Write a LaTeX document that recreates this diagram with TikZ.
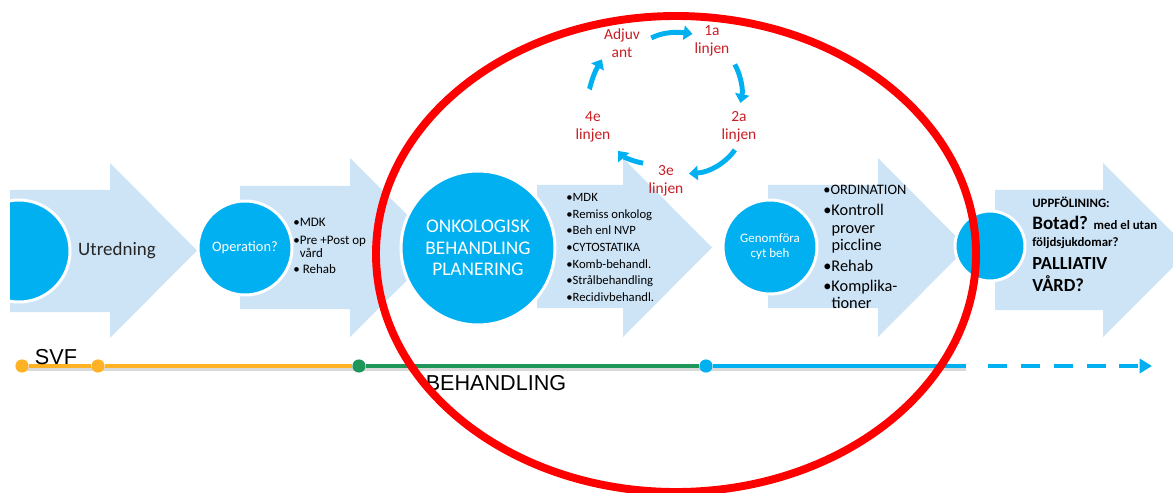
\documentclass[tikz,border=0pt]{standalone}
\usepackage{fontspec}
\setmainfont{Carlito}
\newfontfamily\arialfont{Liberation Sans}
\usetikzlibrary{positioning}
\usetikzlibrary{calc}
\usetikzlibrary{arrows.meta}

\definecolor{lightarrow}{RGB}{205,228,247}
\definecolor{phaseblue}{RGB}{0,176,240}
\definecolor{svforange}{RGB}{255,178,36}
\definecolor{behgreen}{RGB}{30,150,90}
\definecolor{linjered}{RGB}{200,30,35}

\tikzset{
	phase/.style={circle,fill=phaseblue,draw=white,line width=1.7pt,text=white,align=center,inner sep=0pt},
	bulletlist/.style={anchor=north west,align=left,inner sep=0pt},
	textline/.style={anchor=base west,inner sep=0pt,font=\bfseries},
	linje/.style={text=linjered,align=center,inner sep=1pt,font=\fontsize{8.8}{10}\selectfont},
	linjearrow/.style={draw=phaseblue,line width=2.8pt,-{Triangle[length=5pt,width=8pt]}},
	milestone/.style={circle,inner sep=0pt,minimum size=7.5pt},
	timeline/.style={line width=2.6pt},
}

\begin{document}
\begin{tikzpicture}[x=0.02cm,y=-0.02cm]
	\useasboundingbox (0,0) rectangle (1173,493);
	\clip (0,0) rectangle (1173,493);
	\fill[lightarrow] (10,190) -- (110,190) -- (110,163) -- (197,250.5) -- (110,338) -- (110,312) -- (10,312) -- cycle;
	\fill[lightarrow] (240,186) -- (350,186) -- (350,158) -- (440,247.5) -- (350,337) -- (350,309) -- (240,309) -- cycle;
	\fill[lightarrow] (537,185) -- (623,185) -- (623,158) -- (712,247.5) -- (623,337) -- (623,308) -- (537,308) -- cycle;
	\fill[lightarrow] (768,185) -- (878,185) -- (878,158) -- (967,247.5) -- (878,337) -- (878,308) -- (768,308) -- cycle;
	\fill[lightarrow] (995,190) -- (1103,190) -- (1103,163) -- (1190,250) -- (1103,337) -- (1103,310) -- (995,310) -- cycle;

	\begin{scope}
		\clip (10,0) rectangle (200,493);
		\node[phase,minimum size=2.04cm] (start) at (19,251) {};
	\end{scope}
	\node[font=\fontsize{10.8}{12}\selectfont,text=black!85] (utredning) at (117,251) {Utredning};
	\node[phase,minimum size=1.88cm,font=\fontsize{8.2}{10}\selectfont] (operation) at (245,248) {Operation?};
	\node[phase,minimum size=3.08cm,font=\fontsize{11}{12.2}\selectfont] (onko) at (478,248) {ONKOLOGISK\\BEHANDLING\\PLANERING};
	\node[phase,minimum size=1.88cm,font=\fontsize{7.4}{8.6}\selectfont] (genomfora) at (770,247) {Genomföra\\cyt beh};
	\node[phase,minimum size=1.4cm] (uppfoljning) at (990,246) {};

	\node[bulletlist,font=\fontsize{7.4}{7.4}\selectfont] (oplist) at (293,218) {\textbullet MDK\\[2.8pt] \textbullet Pre +Post op\\ \phantom{\textbullet}vård\\[1.7pt] \textbullet\ Rehab};
	\node[bulletlist,font=\fontsize{7.2}{9.5}\selectfont] (onkolist) at (566,193) {\textbullet MDK\\ \textbullet Remiss onkolog\\ \textbullet Beh enl NVP\\ \textbullet CYTOSTATIKA\\ \textbullet Komb-behandl.\\ \textbullet Strålbehandling\\ \textbullet Recidivbehandl.};
	\node[bulletlist,font=\fontsize{9.3}{9.9}\selectfont] (cytlist) at (823,185) {{\fontsize{8.2}{9.9}\selectfont\textbullet ORDINATION}\\[2pt] \textbullet Kontroll\\ \phantom{\textbullet}prover\\ \phantom{\textbullet}piccline\\[2pt] \textbullet Rehab\\[1.5pt] \textbullet Komplika-\\ \phantom{\textbullet}tioner};

	\node[textline,font=\bfseries\fontsize{7.3}{8}\selectfont] (uppf1) at (1032,208) {UPPFÖLINING:};
	\node[textline,font=\bfseries\fontsize{10.8}{12}\selectfont] (botad) at (1032,230) {Botad? {\fontsize{7.3}{8}\selectfont med el utan}};
	\node[textline,font=\bfseries\fontsize{7.3}{8}\selectfont] (foljd) at (1032,247) {följdsjukdomar?};
	\node[textline,font=\bfseries\fontsize{10.5}{12}\selectfont] (palliativ) at (1032,270) {PALLIATIV};
	\node[textline,font=\bfseries\fontsize{10.5}{12}\selectfont] (vard) at (1032,292) {VÅRD?};

	\node[linje] (adjuvant) at (622,43) {Adjuv\\ant};
	\node[linje] (linje1) at (712,41) {1a\\linjen};
	\node[linje] (linje2) at (739,127) {2a\\linjen};
	\node[linje] (linje3) at (666,181) {3e\\linjen};
	\node[linje] (linje4) at (593,127) {4e\\linjen};
	\draw[linjearrow,shorten <=6pt] (adjuvant.east) to[bend left=18] (linje1.160);
	\draw[linjearrow,shorten <=4pt,shorten >=4pt] (linje1.south east) to[bend left=20] (linje2.north);
	\draw[linjearrow,shorten <=4pt,shorten >=2pt] (linje2.south) to[bend left=25] (linje3.20);
	\draw[linjearrow,shorten <=2pt,shorten >=5pt] (linje3.north west) to[bend left=20] (linje4.south east);
	\draw[linjearrow,shorten <=12pt] (linje4.north) to[bend left=20] (adjuvant.south west);

	\draw[timeline,black!15] (22,369) -- (966,369);
	\node[milestone,fill=svforange] (svfstart) at (22,366) {};
	\node[milestone,fill=svforange] (svfmid) at (98,366) {};
	\node[milestone,fill=behgreen] (behstart) at (359,366) {};
	\node[milestone,fill=phaseblue] (cytstart) at (706,366) {};
	\coordinate (solidend) at (966,366);
	\coordinate (dashstart) at (988,366);
	\coordinate (timeend) at (1152,366);
	\draw[timeline,svforange] (svfstart) -- (svfmid);
	\draw[timeline,svforange] (svfmid) -- (behstart);
	\draw[timeline,behgreen] (behstart) -- (cytstart);
	\draw[timeline,phaseblue] (cytstart) -- (solidend);
	\draw[timeline,phaseblue,dash pattern=on 10.8pt off 7.9pt,-{Triangle[length=7pt,width=8pt]}] (dashstart) -- (timeend);
	\node[font=\arialfont\fontsize{12.3}{14}\selectfont] (svf) at (56,357) {SVF};
	\node[font=\arialfont\fontsize{12.3}{14}\selectfont] (behandling) at (496,383) {BEHANDLING};

	\draw[red,line width=4.5pt] (676,254) ellipse [x radius=300, y radius=238];
\end{tikzpicture}
\end{document}
